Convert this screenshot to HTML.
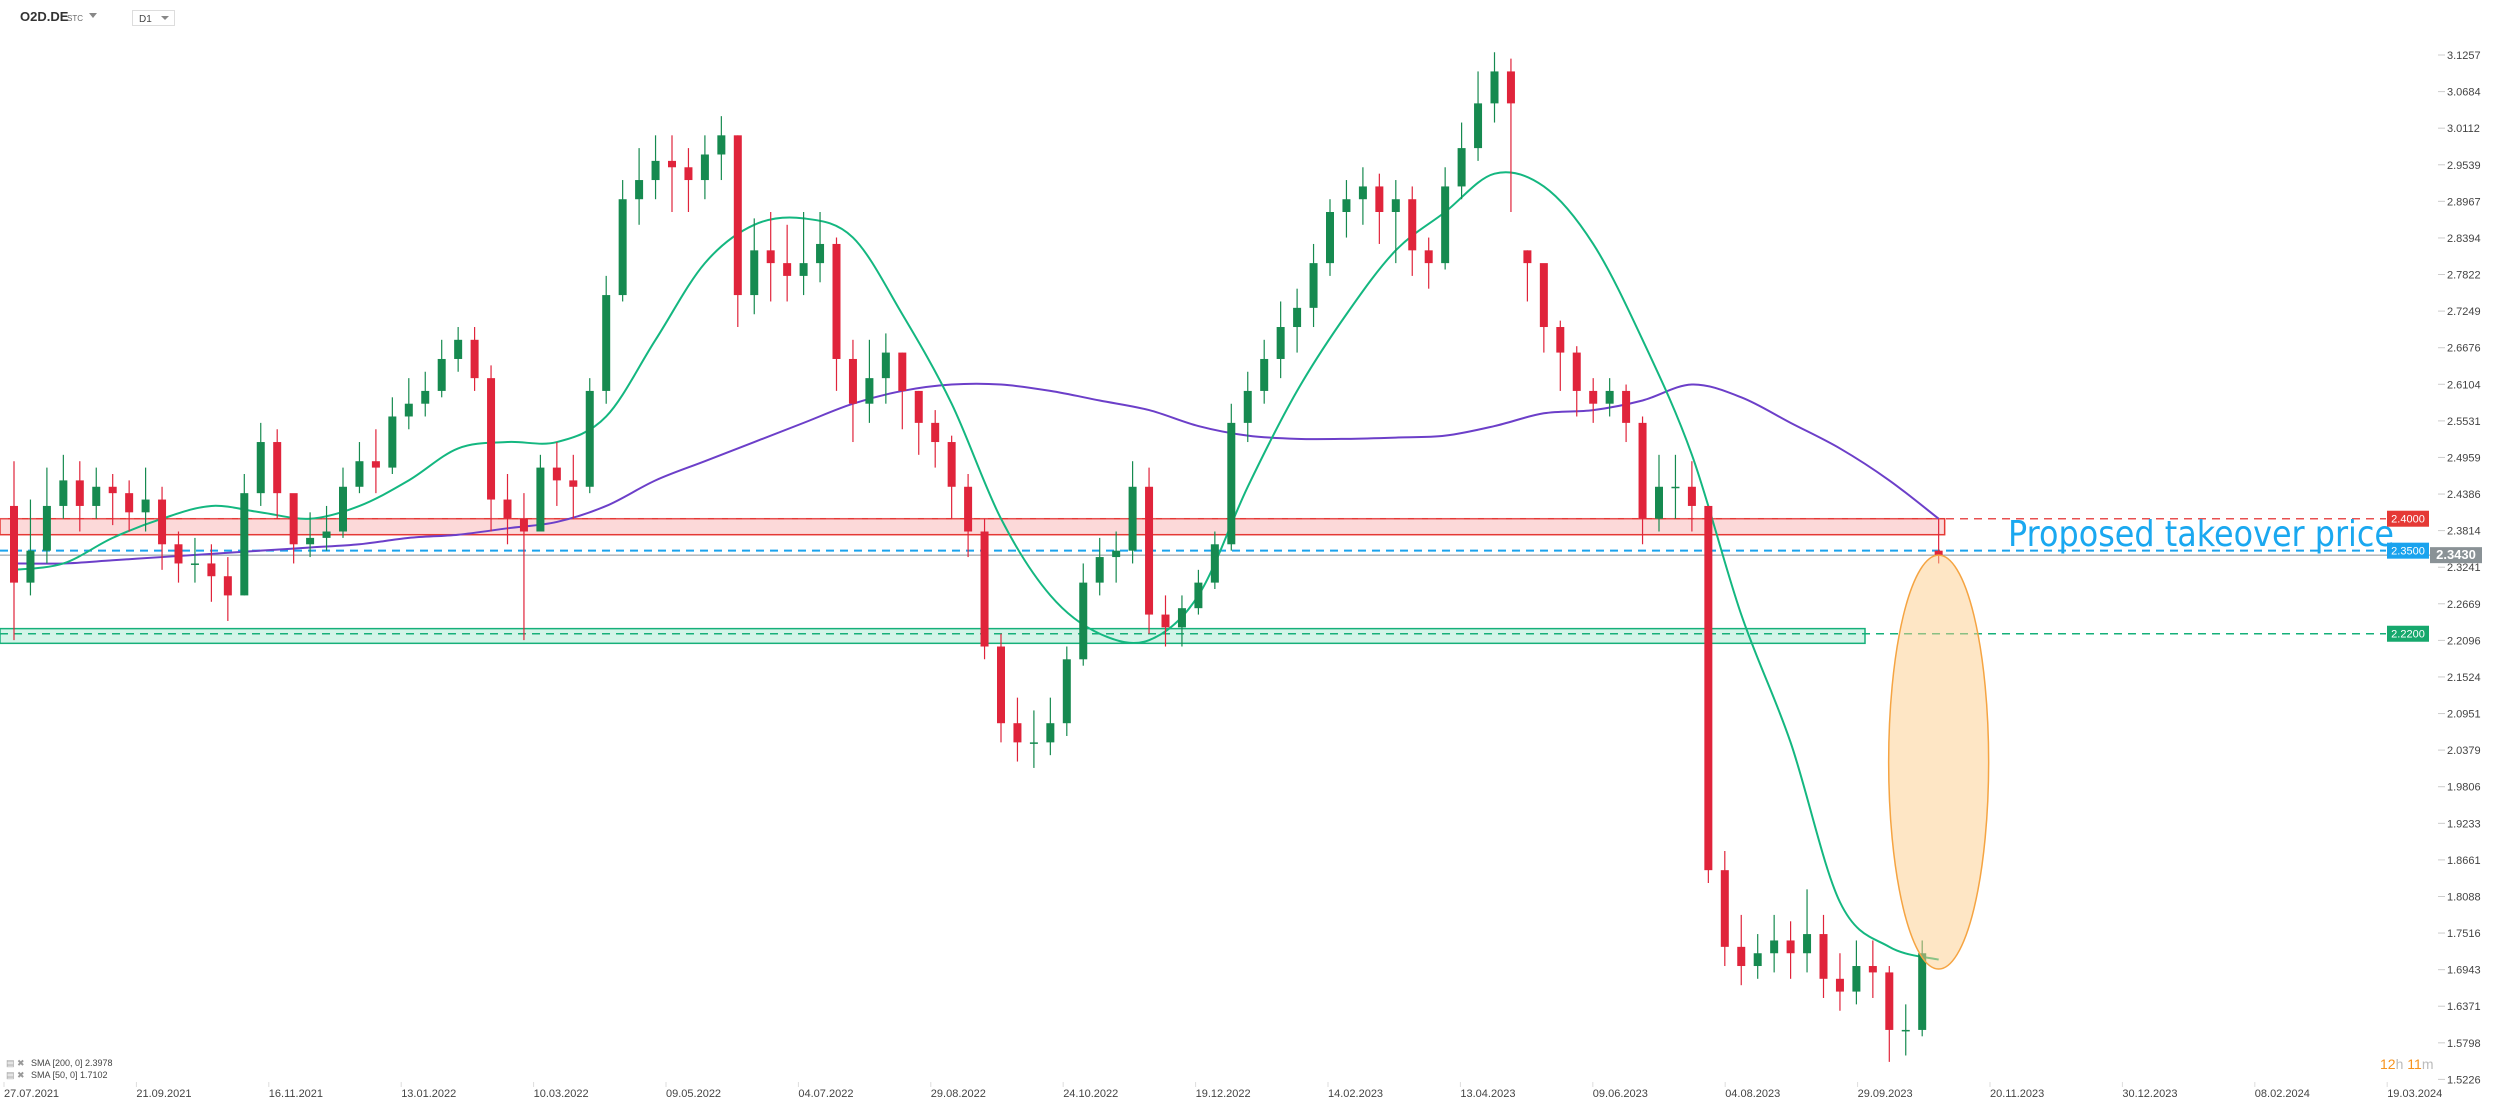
<!DOCTYPE html>
<html><head><meta charset="utf-8"><style>
html,body{margin:0;padding:0;background:#fff;width:2506px;height:1109px;overflow:hidden;font-family:"Liberation Sans",sans-serif}
svg{display:block}
</style></head><body>
<svg id="chart" width="2506" height="1109" xmlns="http://www.w3.org/2000/svg">
<g>
 <text x="20" y="21" font-size="13" font-weight="bold" fill="#333">O2D.DE</text>
 <text x="67" y="21" font-size="8" fill="#666">STC</text>
 <path d="M89 13 L97 13 L93 18 Z" fill="#888"/>
 <rect x="132.5" y="10.5" width="42" height="15" fill="#fff" stroke="#ddd"/>
 <text x="139" y="22" font-size="10" fill="#444">D1</text>
 <path d="M161 16 L169 16 L165 20 Z" fill="#888"/>
</g>
<g id="zones"></g>
<g id="smas"></g>
<g id="candles"></g>
<g id="overlay"></g>
<g id="yaxis"></g>
<g id="xaxis"></g>
<g>
 <text x="6" y="1066" font-size="9" fill="#999">▤ ✖</text>
 <text x="31" y="1066" font-size="9" fill="#444">SMA [200,  0] 2.3978</text>
 <text x="6" y="1078" font-size="9" fill="#999">▤ ✖</text>
 <text x="31" y="1078" font-size="9" fill="#444">SMA [50,  0] 1.7102</text>
</g>
<text x="2380" y="1069" font-size="14"><tspan fill="#f7931e">12</tspan><tspan fill="#bbb">h </tspan><tspan fill="#f7931e">11</tspan><tspan fill="#bbb">m</tspan></text>
</svg>
<script>
const closes=[2.30,2.35,2.42,2.46,2.42,2.45,2.44,2.41,2.43,2.36,2.33,2.33,2.31,2.28,2.44,2.52,2.44,2.36,2.37,2.38,2.45,2.49,2.48,2.56,2.58,2.60,2.65,2.68,2.62,2.43,2.40,2.38,2.48,2.46,2.45,2.60,2.75,2.90,2.93,2.96,2.95,2.93,2.97,3.00,2.75,2.82,2.80,2.78,2.80,2.83,2.65,2.58,2.62,2.66,2.60,2.55,2.52,2.45,2.38,2.20,2.08,2.05,2.05,2.08,2.18,2.30,2.34,2.35,2.45,2.25,2.23,2.26,2.30,2.36,2.55,2.60,2.65,2.70,2.73,2.80,2.88,2.90,2.92,2.88,2.90,2.82,2.80,2.92,2.98,3.05,3.10,3.05,2.80,2.70,2.66,2.60,2.58,2.60,2.55,2.40,2.45,2.45,2.42,1.85,1.73,1.70,1.72,1.74,1.72,1.75,1.68,1.66,1.70,1.69,1.60,1.60,1.72,2.343];
const highs=[2.49,2.43,2.48,2.50,2.49,2.48,2.47,2.46,2.48,2.45,2.38,2.37,2.36,2.34,2.47,2.55,2.54,2.43,2.41,2.42,2.48,2.52,2.54,2.59,2.62,2.63,2.68,2.70,2.70,2.64,2.47,2.44,2.50,2.52,2.50,2.62,2.78,2.93,2.98,3.00,3.00,2.98,3.00,3.03,3.00,2.87,2.88,2.86,2.88,2.88,2.84,2.68,2.68,2.69,2.66,2.60,2.57,2.53,2.47,2.40,2.22,2.12,2.10,2.12,2.20,2.33,2.37,2.38,2.49,2.48,2.28,2.28,2.32,2.38,2.58,2.63,2.68,2.74,2.76,2.83,2.90,2.93,2.95,2.94,2.93,2.92,2.84,2.95,3.02,3.10,3.13,3.12,2.82,2.78,2.71,2.67,2.62,2.62,2.61,2.56,2.50,2.50,2.49,2.42,1.88,1.78,1.75,1.78,1.77,1.82,1.78,1.72,1.74,1.74,1.70,1.64,1.74,2.40];
const lows=[2.21,2.28,2.33,2.40,2.38,2.40,2.39,2.38,2.38,2.32,2.30,2.30,2.27,2.24,2.28,2.42,2.40,2.33,2.34,2.35,2.37,2.44,2.44,2.47,2.54,2.56,2.59,2.63,2.60,2.38,2.36,2.21,2.38,2.42,2.40,2.44,2.58,2.74,2.86,2.90,2.88,2.88,2.90,2.93,2.70,2.72,2.74,2.74,2.75,2.77,2.60,2.52,2.55,2.58,2.54,2.50,2.48,2.40,2.34,2.18,2.05,2.02,2.01,2.03,2.06,2.17,2.28,2.30,2.33,2.22,2.20,2.20,2.25,2.29,2.35,2.52,2.58,2.62,2.66,2.70,2.78,2.84,2.86,2.83,2.80,2.78,2.76,2.79,2.90,2.96,3.02,2.88,2.74,2.66,2.60,2.56,2.55,2.56,2.52,2.36,2.38,2.40,2.38,1.83,1.70,1.67,1.68,1.69,1.68,1.69,1.65,1.63,1.64,1.65,1.55,1.56,1.59,2.33];
const gapOpens={0:2.42,92:2.82,117:2.35};
const sma50=[2.32,2.33,2.37,2.40,2.42,2.41,2.40,2.42,2.46,2.51,2.52,2.52,2.56,2.68,2.80,2.86,2.87,2.84,2.72,2.58,2.40,2.28,2.22,2.21,2.28,2.45,2.60,2.72,2.82,2.88,2.94,2.92,2.83,2.68,2.50,2.25,2.05,1.80,1.73,1.71];
const sma200=[2.33,2.33,2.335,2.34,2.345,2.35,2.355,2.36,2.37,2.375,2.385,2.395,2.42,2.46,2.49,2.52,2.55,2.58,2.60,2.61,2.61,2.60,2.585,2.57,2.545,2.53,2.525,2.525,2.527,2.53,2.545,2.565,2.57,2.585,2.61,2.59,2.55,2.51,2.46,2.40];
const smaStep=3;
const yTicks=["3.1257","3.0684","3.0112","2.9539","2.8967","2.8394","2.7822","2.7249","2.6676","2.6104","2.5531","2.4959","2.4386","2.3814","2.3241","2.2669","2.2096","2.1524","2.0951","2.0379","1.9806","1.9233","1.8661","1.8088","1.7516","1.6943","1.6371","1.5798","1.5226"];
const xTicks=["27.07.2021","21.09.2021","16.11.2021","13.01.2022","10.03.2022","09.05.2022","04.07.2022","29.08.2022","24.10.2022","19.12.2022","14.02.2023","13.04.2023","09.06.2023","04.08.2023","29.09.2023","20.11.2023","30.12.2023","08.02.2024","19.03.2024"];
const levelRed=2.40, levelRedLow=2.375, levelBlue=2.35, levelGreen=2.22, greenTop=2.228, greenBot=2.205, lastPrice=2.343;

const NS="http://www.w3.org/2000/svg";
const Y=v=>55+(3.1257-v)*639;
const X=w=>14+w*16.45;
function mk(tag,attrs,parent){const e=document.createElementNS(NS,tag);for(const k in attrs)e.setAttribute(k,attrs[k]);parent.appendChild(e);return e;}
const zones=document.getElementById('zones'),smas=document.getElementById('smas'),cg=document.getElementById('candles'),ov=document.getElementById('overlay'),ya=document.getElementById('yaxis'),xa=document.getElementById('xaxis');
const lastX=X(closes.length-1);
const plotR=2386;

let e=mk('rect',{x:0,y:Y(levelRed),width:lastX+6,height:Y(levelRedLow)-Y(levelRed),fill:'rgba(240,80,80,0.22)',stroke:'#e53935','stroke-width':1.5},zones);


e=mk('rect',{x:0,y:Y(greenTop),width:1865,height:Y(greenBot)-Y(greenTop),fill:'rgba(40,200,140,0.2)',stroke:'#16b07a','stroke-width':1.5},zones);


e=mk('line',{x1:0,x2:plotR,y1:Y(levelRed),y2:Y(levelRed),stroke:'#e85050','stroke-width':1.5,'stroke-dasharray':'8 6'},zones);


e=mk('line',{x1:0,x2:plotR,y1:Y(levelBlue),y2:Y(levelBlue),stroke:'#1aa3ee','stroke-width':2,'stroke-dasharray':'8 6'},zones);


e=mk('line',{x1:0,x2:2430,y1:Y(lastPrice),y2:Y(lastPrice),stroke:'#8a9296','stroke-width':1},zones);


e=mk('line',{x1:0,x2:plotR,y1:Y(levelGreen),y2:Y(levelGreen),stroke:'#16b07a','stroke-width':1.5,'stroke-dasharray':'8 6'},zones);



function smooth(arr){const pts=arr.map((v,i)=>[X(i*smaStep),Y(v)]);let d='M'+pts[0][0]+' '+pts[0][1];for(let i=0;i<pts.length-1;i++){const p0=pts[Math.max(0,i-1)],p1=pts[i],p2=pts[i+1],p3=pts[Math.min(pts.length-1,i+2)];const c1x=p1[0]+(p2[0]-p0[0])/6,c1y=p1[1]+(p2[1]-p0[1])/6,c2x=p2[0]-(p3[0]-p1[0])/6,c2y=p2[1]-(p3[1]-p1[1])/6;d+=` C${c1x} ${c1y} ${c2x} ${c2y} ${p2[0]} ${p2[1]}`;}return d;}
e=mk('path',{d:smooth(sma200),fill:'none',stroke:'#6c3fc9','stroke-width':2},smas);


e=mk('path',{d:smooth(sma50),fill:'none',stroke:'#14b780','stroke-width':2},smas);



closes.forEach((c,i)=>{
 const o=(i in gapOpens)?gapOpens[i]:closes[i-1];
 const up=c>=o, col=up?'#168a50':'#e0243b';
 const g=mk('g',{},cg);
 
 
 const x=X(i);
 mk('line',{x1:x,x2:x,y1:Y(highs[i]),y2:Y(lows[i]),stroke:col,'stroke-width':1.2},g);
 const t=Y(Math.max(o,c)),b=Y(Math.min(o,c));
 mk('rect',{x:x-4,y:t,width:8,height:Math.max(1.5,b-t),fill:col},g);
});

e=mk('ellipse',{cx:lastX,cy:(Y(lastPrice)+969)/2,rx:50,ry:(969-Y(lastPrice))/2,fill:'rgba(253,205,140,0.5)',stroke:'#f5a442','stroke-width':1.5},ov);


e=mk('text',{x:2008,y:546,'font-size':36,fill:'#1aa8f0','font-family':'"DejaVu Sans",sans-serif',textLength:386,lengthAdjust:'spacingAndGlyphs'},ov);
e.textContent='Proposed takeover price';



[[levelRed,'2.4000','#e53935',2387,42],[levelBlue,'2.3500','#1aa3ee',2387,42],[levelGreen,'2.2200','#16a86d',2387,42],[lastPrice,'2.3430','#8a9296',2430,52]].forEach(([v,t,col,x,w])=>{
 const g=mk('g',{},ov);
 
 
 mk('rect',{x:x,y:Y(v)-8,width:w,height:16,fill:col},g);
 const tx=mk('text',{x:x+w/2,y:Y(v)+4,'font-size':w>45?13:11,fill:'#fff','text-anchor':'middle','font-weight':w>45?'bold':'normal'},g);
 tx.textContent=t;
});

yTicks.forEach(t=>{
 const y=Y(parseFloat(t));
 if(Math.abs(y-Y(lastPrice))<12) return;
 const g=mk('g',{},ya);
 
 
 mk('line',{x1:2438,x2:2445,y1:y,y2:y,stroke:'#ccc'},g);
 const tx=mk('text',{x:2447,y:y+4,'font-size':11,fill:'#444'},g);tx.textContent=t;
});
xTicks.forEach((t,i)=>{
 const x=4+i*132.4;
 const g=mk('g',{},xa);
 
 
 mk('line',{x1:x,x2:x,y1:1082,y2:1087,stroke:'#ddd'},g);
 const tx=mk('text',{x:x,y:1097,'font-size':11,fill:'#444'},g);tx.textContent=t;
});
</script>
</body></html>
